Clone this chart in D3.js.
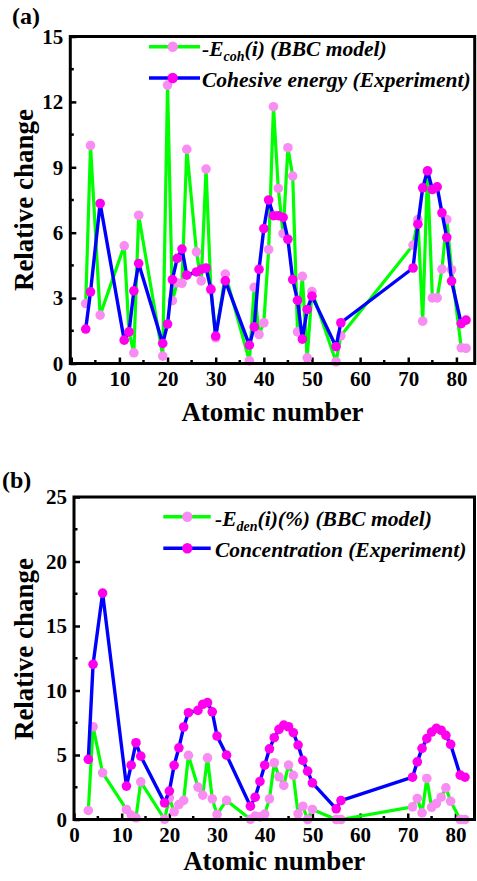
<!DOCTYPE html>
<html>
<head>
<meta charset="utf-8">
<script src="https://cdn.jsdelivr.net/npm/d3@7"></script>
<style>
  body { margin: 0; background: #fff; }
  svg { display: block; }
  text { font-family: "Liberation Serif", "Times New Roman", serif; font-weight: bold; }
</style>
</head>
<body>
<script>
// atomic numbers of the elements shown in both panels
var atomicNumbers = [3, 4, 6, 11, 12, 13, 14, 19, 20, 21, 22, 23, 24, 26, 27, 28, 29, 30, 32,
  37, 38, 39, 40, 41, 42, 43, 44, 45, 46, 47, 48, 49, 50, 55, 56,
  71, 72, 73, 74, 75, 76, 77, 78, 79, 81, 82];

// (a) cohesive energy
var cohBBC = [2.75, 10.0, 2.22, 5.4, 1.45, 0.49, 6.8, 0.34, 12.77, 2.88, 3.7, 3.68, 9.82, 5.12, 3.79, 8.92, 3.37, 1.18, 4.1,
  0.12, 3.49, 1.33, 1.87, 5.23, 11.78, 8.03, 5.96, 9.9, 8.6, 1.45, 4.0, 0.26, 3.3, 0.08, 1.27,
  5.43, 6.6, 1.94, 8.8, 3.01, 3.01, 4.33, 6.6, 4.3, 0.72, 0.7];
var cohExp = [1.58, 3.29, 7.34, 1.07, 1.45, 3.33, 4.59, 0.92, 1.81, 3.85, 4.82, 5.25, 4.05, 4.2, 4.32, 4.38, 3.41, 1.26, 3.79,
  0.84, 1.68, 4.32, 6.19, 7.5, 6.78, 6.78, 6.7, 5.7, 3.85, 2.9, 1.12, 2.48, 3.09, 0.77, 1.87,
  4.38, 6.39, 8.06, 8.84, 7.98, 8.1, 6.91, 5.78, 3.78, 1.83, 1.99];

// (b) concentration
var denBBC = [0.7, 7.19, 3.62, 0.78, 0.34, 0.13, 2.92, 0.02, 1.66, 0.6, 1.16, 1.48, 4.97, 2.51, 1.89, 4.78, 1.6, 0.39, 1.48,
  0.02, 0.26, 0.2, 0.42, 1.6, 4.4, 3.31, 2.64, 4.22, 3.42, 0.44, 1.03, 0.0, 0.78, 0.0, 0.0,
  0.98, 1.63, 0.51, 3.18, 0.95, 1.24, 1.73, 2.45, 1.41, 0.0, 0.0];
var denExp = [4.66, 12.03, 17.55, 2.59, 4.21, 5.95, 4.91, 1.29, 2.2, 4.2, 5.56, 7.17, 8.28, 8.46, 8.93, 9.06, 8.35, 6.47, 4.99,
  1.03, 1.73, 2.95, 4.21, 5.48, 6.34, 6.99, 7.32, 7.19, 6.73, 5.77, 4.58, 3.75, 2.84, 0.83, 1.47,
  3.28, 4.47, 5.51, 6.27, 6.78, 7.07, 6.92, 6.52, 5.82, 3.44, 3.28];

var xTicks = [0, 10, 20, 30, 40, 50, 60, 70, 80];
var yTicksA = [0, 3, 6, 9, 12, 15];
var yTicksB = [0, 5, 10, 15, 20, 25];

var green = '#00ff00', blue = '#0000ff';
var pink = '#f98cf2', magenta = '#ff00ee';

var svg = d3.select('body').append('svg')
  .attr('width', 477)
  .attr('height', 881);

function drawPanel(p) {
  var x = d3.scaleLinear().domain(p.xDomain).range([p.left, p.right]);
  var y = d3.scaleLinear().domain(p.yDomain).range([p.bottom, p.top]);
  var g = svg.append('g');

  var bbc = atomicNumbers.map(function(z, i) { return [z, p.model[i]]; });
  var exp = atomicNumbers.map(function(z, i) { return [z, p.exper[i]]; });
  var line = d3.line().x(function(d) { return x(d[0]); }).y(function(d) { return y(d[1]); });

  // minor ticks
  var xMinor = d3.range(5, 84, 10);
  var yMinor = d3.range(p.yStep / 2, p.yDomain[1], p.yStep);
  g.selectAll('.xm').data(xMinor).enter().append('line')
    .attr('x1', function(d) { return x(d); }).attr('x2', function(d) { return x(d); })
    .attr('y1', p.bottom).attr('y2', p.bottom - 3.5)
    .attr('stroke', '#000').attr('stroke-width', 2.5);
  g.selectAll('.ym').data(yMinor).enter().append('line')
    .attr('y1', function(d) { return y(d); }).attr('y2', function(d) { return y(d); })
    .attr('x1', p.left).attr('x2', p.left + 3.5)
    .attr('stroke', '#000').attr('stroke-width', 2.5);

  var xAxis = g.append('g').attr('transform', 'translate(0,' + p.bottom + ')')
    .call(d3.axisBottom(x).tickValues(xTicks).tickSize(-6).tickPadding(8));
  var yAxis = g.append('g').attr('transform', 'translate(' + p.left + ',0)')
    .call(d3.axisLeft(y).tickValues(p.yTicks).tickSize(-6).tickPadding(7));
  [xAxis, yAxis].forEach(function(a) {
    a.select('.domain').remove();
    a.selectAll('line').attr('stroke', '#000').attr('stroke-width', 2.5);
    a.selectAll('text').attr('fill', '#000').style('font-size', '21px');
  });
  xAxis.selectAll('text').attr('dy', '0.71em');

  // data
  g.append('path').datum(bbc).attr('d', line)
    .attr('fill', 'none').attr('stroke', green).attr('stroke-width', 3.2).attr('stroke-linejoin', 'round');
  g.selectAll('.pb').data(bbc).enter().append('circle')
    .attr('cx', function(d) { return x(d[0]); }).attr('cy', function(d) { return y(d[1]); })
    .attr('r', 4.8).attr('fill', pink);
  g.append('path').datum(exp).attr('d', line)
    .attr('fill', 'none').attr('stroke', blue).attr('stroke-width', 3.4).attr('stroke-linejoin', 'round');
  g.selectAll('.pe').data(exp).enter().append('circle')
    .attr('cx', function(d) { return x(d[0]); }).attr('cy', function(d) { return y(d[1]); })
    .attr('r', 4.8).attr('fill', magenta);

  // frame
  g.append('rect')
    .attr('x', p.left).attr('y', p.top)
    .attr('width', p.right - p.left).attr('height', p.bottom - p.top)
    .attr('fill', 'none').attr('stroke', '#000').attr('stroke-width', 3);

  // legend
  var lg = [
    {c: green, m: pink, y: p.legY[0]},
    {c: blue, m: magenta, y: p.legY[1]}
  ];
  lg.forEach(function(l, i) {
    g.append('line').attr('x1', p.legX[0]).attr('x2', p.legX[2]).attr('y1', l.y).attr('y2', l.y)
      .attr('stroke', l.c).attr('stroke-width', 3.4);
    g.append('circle').attr('cx', p.legX[1]).attr('cy', l.y).attr('r', 5.2).attr('fill', l.m);
  });
  var t1 = g.append('text').attr('x', p.legX[3]).attr('y', p.legY[0] + 9.5)
    .style('font-size', '21.5px').style('font-style', 'italic');
  t1.append('tspan').text('-E');
  t1.append('tspan').attr('dy', 5).style('font-size', '14px').text(p.sub);
  t1.append('tspan').attr('dy', -5).text(p.label1);
  g.append('text').attr('x', p.legX[3]).attr('y', p.legY[1] + 8.5)
    .style('font-size', '21.5px').style('font-style', 'italic').text(p.label2);

  // titles
  g.append('text').attr('x', (p.left + p.right) / 2).attr('y', p.xTitleY)
    .attr('text-anchor', 'middle').style('font-size', '27px').text('Atomic number');
  g.append('text').attr('transform', 'translate(33,' + p.yTitleY + ') rotate(-90)')
    .attr('text-anchor', 'middle').style('font-size', '27px').text('Relative change');
  g.append('text').attr('x', p.tagX).attr('y', p.tagY)
    .style('font-size', '24px').text(p.tag);
}

drawPanel({
  left: 70.3, right: 474.7, top: 36.5, bottom: 363.5,
  xDomain: [-0.2, 83.8], yDomain: [0, 15], yTicks: yTicksA, yStep: 3,
  model: cohBBC, exper: cohExp,
  legX: [149, 172.7, 200, 202], legY: [46.7, 78],
  sub: 'coh', label1: '(i) (BBC model)', label2: 'Cohesive energy (Experiment)',
  xTitleY: 421, yTitleY: 200, tag: '(a)', tagX: 12, tagY: 24
});

drawPanel({
  left: 74, right: 474.5, top: 497, bottom: 819.5,
  xDomain: [0, 84], yDomain: [0, 25], yTicks: yTicksB, yStep: 5,
  model: denBBC, exper: denExp,
  legX: [163.3, 187.3, 210.7, 215], legY: [516.7, 548.3],
  sub: 'den', label1: '(i)(%) (BBC model)', label2: 'Concentration (Experiment)',
  xTitleY: 870, yTitleY: 649, tag: '(b)', tagX: 2, tagY: 488
});
</script>
</body>
</html>
